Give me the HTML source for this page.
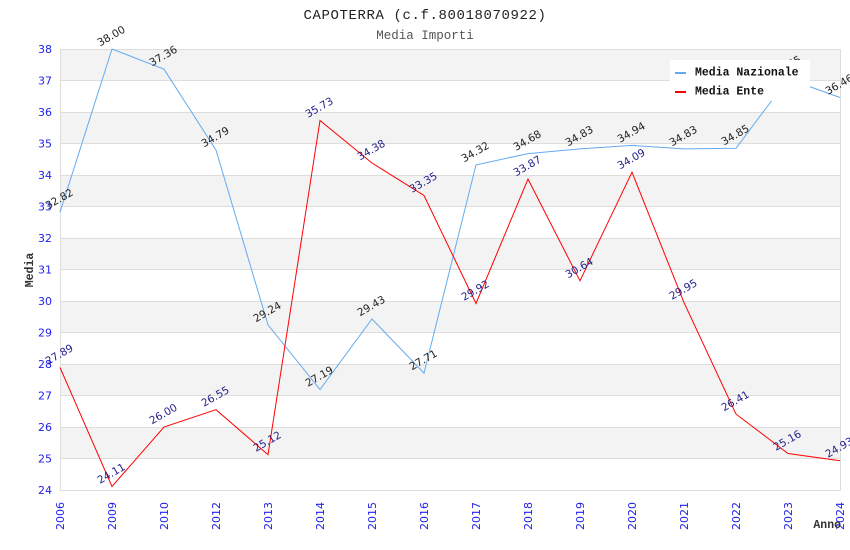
<!DOCTYPE html>
<html><head><meta charset="utf-8"><style>
html,body{margin:0;padding:0;background:#fff;}
svg{display:block;}
.t{font-family:"DejaVu Sans","Liberation Sans",sans-serif;}
.m{font-family:"Liberation Mono","DejaVu Sans Mono",monospace;}
</style></head><body>
<svg width="850" height="550" viewBox="0 0 850 550" xmlns="http://www.w3.org/2000/svg">
<rect x="0" y="0" width="850" height="550" fill="#fff"/>
<g fill="#f3f3f3">
<rect x="60" y="49" width="780" height="31.5"/>
<rect x="60" y="112" width="780" height="31.5"/>
<rect x="60" y="175" width="780" height="31.5"/>
<rect x="60" y="238" width="780" height="31.5"/>
<rect x="60" y="301" width="780" height="31.5"/>
<rect x="60" y="364" width="780" height="31.5"/>
<rect x="60" y="427" width="780" height="31.5"/>
</g>
<g stroke="#dddddd" stroke-width="1" shape-rendering="crispEdges">
<line x1="60" y1="49.5" x2="840" y2="49.5"/>
<line x1="60" y1="80.5" x2="840" y2="80.5"/>
<line x1="60" y1="112.5" x2="840" y2="112.5"/>
<line x1="60" y1="143.5" x2="840" y2="143.5"/>
<line x1="60" y1="175.5" x2="840" y2="175.5"/>
<line x1="60" y1="206.5" x2="840" y2="206.5"/>
<line x1="60" y1="238.5" x2="840" y2="238.5"/>
<line x1="60" y1="269.5" x2="840" y2="269.5"/>
<line x1="60" y1="301.5" x2="840" y2="301.5"/>
<line x1="60" y1="332.5" x2="840" y2="332.5"/>
<line x1="60" y1="364.5" x2="840" y2="364.5"/>
<line x1="60" y1="395.5" x2="840" y2="395.5"/>
<line x1="60" y1="427.5" x2="840" y2="427.5"/>
<line x1="60" y1="458.5" x2="840" y2="458.5"/>
<line x1="60" y1="490.5" x2="840" y2="490.5"/>
<line x1="60.5" y1="49" x2="60.5" y2="491"/>
<line x1="840.5" y1="49" x2="840.5" y2="491"/>
</g>
<text class="m" x="425" y="19" text-anchor="middle" font-size="14" letter-spacing="0.6" fill="#222">CAPOTERRA (c.f.80018070922)</text>
<text class="m" x="425" y="39" text-anchor="middle" font-size="12.5" fill="#555">Media Importi</text>
<g class="t" font-size="11" fill="#2222ee" text-anchor="end">
<text x="52" y="53">38</text>
<text x="52" y="84.5">37</text>
<text x="52" y="116">36</text>
<text x="52" y="147.5">35</text>
<text x="52" y="179">34</text>
<text x="52" y="210.5">33</text>
<text x="52" y="242">32</text>
<text x="52" y="273.5">31</text>
<text x="52" y="305">30</text>
<text x="52" y="336.5">29</text>
<text x="52" y="368">28</text>
<text x="52" y="399.5">27</text>
<text x="52" y="431">26</text>
<text x="52" y="462.5">25</text>
<text x="52" y="494">24</text>
</g>
<g class="t" font-size="11" fill="#2222ee" text-anchor="end">
<text transform="translate(64,502) rotate(-90)">2006</text>
<text transform="translate(116,502) rotate(-90)">2009</text>
<text transform="translate(168,502) rotate(-90)">2010</text>
<text transform="translate(220,502) rotate(-90)">2012</text>
<text transform="translate(272,502) rotate(-90)">2013</text>
<text transform="translate(324,502) rotate(-90)">2014</text>
<text transform="translate(376,502) rotate(-90)">2015</text>
<text transform="translate(428,502) rotate(-90)">2016</text>
<text transform="translate(480,502) rotate(-90)">2017</text>
<text transform="translate(532,502) rotate(-90)">2018</text>
<text transform="translate(584,502) rotate(-90)">2019</text>
<text transform="translate(636,502) rotate(-90)">2020</text>
<text transform="translate(688,502) rotate(-90)">2021</text>
<text transform="translate(740,502) rotate(-90)">2022</text>
<text transform="translate(792,502) rotate(-90)">2023</text>
<text transform="translate(844,502) rotate(-90)">2024</text>
</g>
<text class="m" x="33" y="270" transform="rotate(-90,33,270)" text-anchor="middle" font-size="11.5" font-weight="bold" fill="#333">Media</text>
<text class="m" x="841" y="528" text-anchor="end" font-size="11.5" font-weight="bold" fill="#333">Anno</text>
<polyline fill="none" stroke="#66aaee" stroke-width="1" points="60,212.2 112,49 164,69.2 216,150.1 268,324.9 320,389.5 372,319 424,373.1 476,164.9 528,153.6 580,148.9 632,145.4 684,148.9 736,148.2 788,78.9 840,97.5"/>
<polyline fill="none" stroke="#ff0000" stroke-width="1" points="60,367.5 112,486.5 164,427 216,409.7 268,454.7 320,120.5 372,163 424,195.5 476,303.5 528,179.1 580,280.8 632,172.2 684,302.6 736,414.1 788,453.5 840,460.7"/>
<g class="t" font-size="10.5" fill="#222" text-anchor="middle">
<text transform="translate(61,202) rotate(-30)">32.82</text>
<text transform="translate(113,39) rotate(-30)">38.00</text>
<text transform="translate(165,59) rotate(-30)">37.36</text>
<text transform="translate(217,140) rotate(-30)">34.79</text>
<text transform="translate(269,315) rotate(-30)">29.24</text>
<text transform="translate(321,379.5) rotate(-30)">27.19</text>
<text transform="translate(373,309) rotate(-30)">29.43</text>
<text transform="translate(425,363) rotate(-30)">27.71</text>
<text transform="translate(477,155) rotate(-30)">34.32</text>
<text transform="translate(529,143.5) rotate(-30)">34.68</text>
<text transform="translate(581,139) rotate(-30)">34.83</text>
<text transform="translate(633,135.5) rotate(-30)">34.94</text>
<text transform="translate(685,139) rotate(-30)">34.83</text>
<text transform="translate(737,138) rotate(-30)">34.85</text>
<text transform="translate(789,69) rotate(-30)">37.05</text>
<text transform="translate(841,87.5) rotate(-30)">36.46</text>
</g>
<g class="t" font-size="10.5" fill="#22228b" text-anchor="middle">
<text transform="translate(61,357.5) rotate(-30)">27.89</text>
<text transform="translate(113,476.5) rotate(-30)">24.11</text>
<text transform="translate(165,417) rotate(-30)">26.00</text>
<text transform="translate(217,399.5) rotate(-30)">26.55</text>
<text transform="translate(269,444.5) rotate(-30)">25.12</text>
<text transform="translate(321,110.5) rotate(-30)">35.73</text>
<text transform="translate(373,153) rotate(-30)">34.38</text>
<text transform="translate(425,185.5) rotate(-30)">33.35</text>
<text transform="translate(477,293.5) rotate(-30)">29.92</text>
<text transform="translate(529,169) rotate(-30)">33.87</text>
<text transform="translate(581,271) rotate(-30)">30.64</text>
<text transform="translate(633,162) rotate(-30)">34.09</text>
<text transform="translate(685,292.5) rotate(-30)">29.95</text>
<text transform="translate(737,404) rotate(-30)">26.41</text>
<text transform="translate(789,443.5) rotate(-30)">25.16</text>
<text transform="translate(841,450.5) rotate(-30)">24.93</text>
</g>
<rect x="670" y="60" width="140" height="41" fill="#ffffff"/>
<rect x="675" y="72" width="11" height="2" fill="#66aaee"/>
<rect x="675" y="91" width="11" height="2" fill="#ff0000"/>
<text class="m" x="695" y="75.5" font-size="11.5" font-weight="bold" fill="#111">Media Nazionale</text>
<text class="m" x="695" y="94.5" font-size="11.5" font-weight="bold" fill="#111">Media Ente</text>
</svg>
</body></html>
